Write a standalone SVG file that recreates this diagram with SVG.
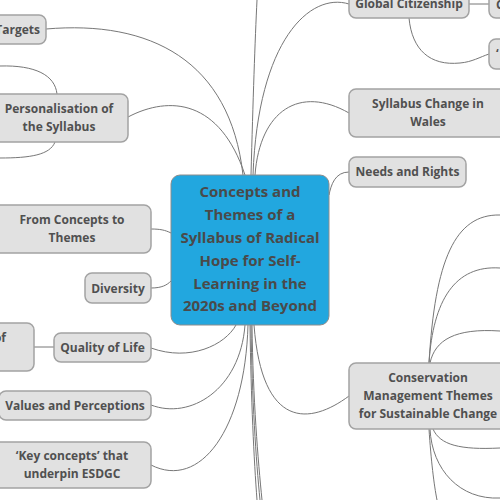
<svg xmlns="http://www.w3.org/2000/svg" width="500" height="500" viewBox="0 0 500 500">
<style>
.n{fill:#E1E1E1;stroke:#A3A3A3;stroke-width:1.5}
.c{fill:#22A7DF;stroke:#8C8C8C;stroke-width:1}
.t{font-family:"Open Sans","Liberation Sans",sans-serif;font-weight:bold;font-size:12px;fill:#505050;text-anchor:middle;dominant-baseline:central}
.tc{font-size:15px;fill:#4A4A4A}
.l{fill:none;stroke:#777777;stroke-width:1}
</style>
<rect width="500" height="500" fill="#FFFFFF"/>
<g id="connectors">
<path class="l" d="M46,29 C150,20 230,60 243,175"/>
<path class="l" d="M128,117 C170,95 220,100 245,175"/>
<path class="l" d="M251,175 C253,100 255,40 257,0"/>
<path class="l" d="M349,4 C310,-8 258,40 253,175"/>
<path class="l" d="M349,113 C300,85 260,110 255,175"/>
<path class="l" d="M349,172 C335,172 331,185 329,195"/>
<path class="l" d="M151,229 C160,229 165,230 171,233"/>
<path class="l" d="M151,288 C162,288 167,285 171,281"/>
<path class="l" d="M151,348 C190,362 225,345 236,325"/>
<path class="l" d="M151,405 C190,420 240,390 245,325"/>
<path class="l" d="M151,465 C200,490 245,430 248,325"/>
<path class="l" d="M349,396 C310,425 262,430 254,325"/>
<path class="l" d="M250,325 C251,400 254,460 257,500"/>
<path class="l" d="M251,325 C252,400 256,460 260,500"/>
<path class="l" d="M252,325 C253,400 258,460 262,500"/>
<path class="l" d="M57,94 C55,75 35,65 0,66"/>
<path class="l" d="M55,142 C50,155 30,158 0,158"/>
<path class="l" d="M34,347 L54,347"/>
<path class="l" d="M469,4 L489,4"/>
<path class="l" d="M409,18 C412,50 430,66 460,63 C472,62 480,57 489,54"/>
<path class="l" d="M429,363 C435,260 455,214 500,215"/>
<path class="l" d="M429,363 C433,300 455,265 500,268"/>
<path class="l" d="M430,363 C435,340 455,328 500,331"/>
<path class="l" d="M433,429 C440,445 460,450 500,448"/>
<path class="l" d="M430,429 C432,470 460,500 500,498"/>
<path class="l" d="M429,429 C431,460 434,485 437,500"/>
</g>
<g id="central">
<rect class="c" x="171" y="175" width="158" height="150" rx="9"/>
<text class="t tc" x="250" y="191">Concepts and</text>
<text class="t tc" x="250" y="214">Themes of a</text>
<text class="t tc" x="250" y="237">Syllabus of Radical</text>
<text class="t tc" x="250" y="260">Hope for Self-</text>
<text class="t tc" x="250" y="283">Learning in the</text>
<text class="t tc" x="250" y="305">2020s and Beyond</text>
</g>
<g id="targets">
<rect class="n" x="-40" y="15" width="86" height="29" rx="7"/>
<text class="t" x="40" y="29" style="text-anchor:end">Targets</text>
</g>
<g id="personalisation">
<rect class="n" x="-10" y="94" width="138" height="48" rx="7"/>
<text class="t" x="59" y="108">Personalisation of</text>
<text class="t" x="59" y="126">the Syllabus</text>
</g>
<g id="from-concepts">
<rect class="n" x="-7" y="205" width="158" height="48" rx="7"/>
<text class="t" x="72" y="219">From Concepts to</text>
<text class="t" x="72" y="237">Themes</text>
</g>
<g id="diversity">
<rect class="n" x="85" y="273" width="66" height="30" rx="7"/>
<text class="t" x="118" y="288">Diversity</text>
</g>
<g id="left-child">
<rect class="n" x="-60" y="323" width="94" height="48" rx="7"/>
<text class="t" x="6" y="337" style="text-anchor:end">of</text>
</g>
<g id="quality">
<rect class="n" x="54" y="333" width="97" height="29" rx="7"/>
<text class="t" x="102.5" y="347">Quality of Life</text>
</g>
<g id="values">
<rect class="n" x="-1" y="391" width="152" height="29" rx="7"/>
<text class="t" x="75" y="405">Values and Perceptions</text>
</g>
<g id="key-concepts">
<rect class="n" x="-7" y="442" width="158" height="46" rx="7"/>
<text class="t" x="72" y="455">‘Key concepts’ that</text>
<text class="t" x="72" y="473">underpin ESDGC</text>
</g>
<g id="global">
<rect class="n" x="349" y="-12" width="120" height="30" rx="7"/>
<text class="t" x="409" y="3">Global Citizenship</text>
</g>
<g id="global-child-1">
<rect class="n" x="489" y="-12" width="60" height="30" rx="7"/>
<text class="t" x="496" y="4" style="text-anchor:start">C</text>
</g>
<g id="global-child-2">
<rect class="n" x="489" y="39" width="60" height="30" rx="7"/>
<text class="t" x="496" y="53" style="text-anchor:start">‘</text>
</g>
<g id="syllabus-change">
<rect class="n" x="349" y="89" width="158" height="48" rx="7"/>
<text class="t" x="428" y="103">Syllabus Change in</text>
<text class="t" x="428" y="121">Wales</text>
</g>
<g id="needs">
<rect class="n" x="349" y="157" width="117" height="30" rx="7"/>
<text class="t" x="407.5" y="171">Needs and Rights</text>
</g>
<g id="conservation">
<rect class="n" x="349" y="363" width="158" height="66" rx="7"/>
<text class="t" x="428" y="377">Conservation</text>
<text class="t" x="428" y="395">Management Themes</text>
<text class="t" x="428" y="413">for Sustainable Change</text>
</g>
</svg>
